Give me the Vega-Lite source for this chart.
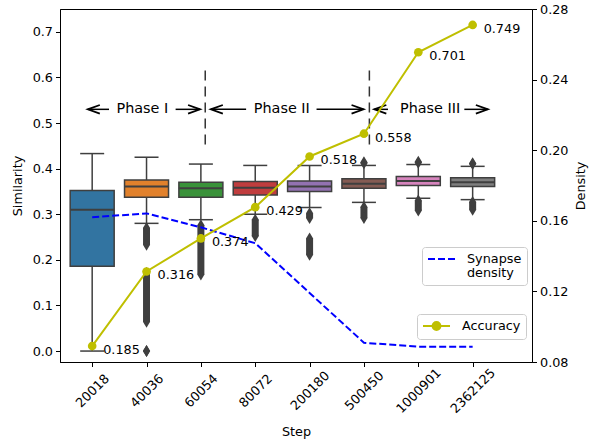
{
  "$schema": "https://vega.github.io/schema/vega-lite/v6.json",
  "width": 472,
  "height": 353,
  "autosize": {"type": "none"},
  "padding": {"left": 60, "top": 9, "right": 58, "bottom": 82},
  "datasets": {
    "steps": [
      {"step": "20018", "idx": 0, "lower": 0.0, "q1": 0.186, "median": 0.310, "q3": 0.352, "upper": 0.433, "accuracy": 0.185, "density": 0.1620},
      {"step": "40036", "idx": 1, "lower": 0.280, "q1": 0.337, "median": 0.361, "q3": 0.375, "upper": 0.425, "accuracy": 0.316, "density": 0.1642},
      {"step": "60054", "idx": 2, "lower": 0.288, "q1": 0.337, "median": 0.357, "q3": 0.370, "upper": 0.410, "accuracy": 0.374, "density": 0.1563},
      {"step": "80072", "idx": 3, "lower": 0.300, "q1": 0.342, "median": 0.358, "q3": 0.372, "upper": 0.407, "accuracy": 0.429, "density": 0.1473},
      {"step": "200180", "idx": 4, "lower": 0.315, "q1": 0.350, "median": 0.361, "q3": 0.373, "upper": 0.407, "accuracy": 0.518, "density": 0.1191},
      {"step": "500450", "idx": 5, "lower": 0.326, "q1": 0.357, "median": 0.367, "q3": 0.378, "upper": 0.407, "accuracy": 0.558, "density": 0.0909},
      {"step": "1000901", "idx": 6, "lower": 0.335, "q1": 0.363, "median": 0.373, "q3": 0.383, "upper": 0.409, "accuracy": 0.701, "density": 0.0887},
      {"step": "2362125", "idx": 7, "lower": 0.332, "q1": 0.361, "median": 0.370, "q3": 0.380, "upper": 0.405, "accuracy": 0.749, "density": 0.0887}
    ],
    "outliers": [
      {"idx": 1, "lo": 0.233, "hi": 0.270},
      {"idx": 1, "lo": 0.064, "hi": 0.171},
      {"idx": 1, "lo": 0.0, "hi": 0.0},
      {"idx": 2, "lo": 0.168, "hi": 0.276},
      {"idx": 3, "lo": 0.252, "hi": 0.288},
      {"idx": 4, "lo": 0.292, "hi": 0.302},
      {"idx": 4, "lo": 0.211, "hi": 0.247},
      {"idx": 5, "lo": 0.412, "hi": 0.414},
      {"idx": 5, "lo": 0.292, "hi": 0.316},
      {"idx": 6, "lo": 0.413, "hi": 0.415},
      {"idx": 6, "lo": 0.308, "hi": 0.330},
      {"idx": 7, "lo": 0.410, "hi": 0.412},
      {"idx": 7, "lo": 0.310, "hi": 0.327}
    ],
    "phases": [
      {"phase": "Phase I", "center": 0.923, "lt": -0.080, "le": 0.310, "rs": 1.535, "rt": 1.985, "y": 0.530},
      {"phase": "Phase II", "center": 3.489, "lt": 2.183, "le": 2.832, "rs": 4.128, "rt": 4.993, "y": 0.530},
      {"phase": "Phase III", "center": 6.217, "lt": 5.191, "le": 5.443, "rs": 6.847, "rt": 7.280, "y": 0.530}
    ],
    "dividers": [
      {"x": 2.08, "top": 0.615, "bottom": 0.441},
      {"x": 5.10, "top": 0.615, "bottom": 0.441}
    ]
  },
  "encoding": {
    "x": {
      "field": "idx", "type": "quantitative", "title": "Step",
      "scale": {"domain": [-0.5, 8], "nice": false, "zero": false},
      "axis": {
        "values": [0, 1, 2, 3, 4, 5, 6, 7],
        "labelExpr": "['20018','40036','60054','80072','200180','500450','1000901','2362125'][datum.value]",
        "labelAngle": -45, "labelAlign": "center", "labelBaseline": "middle",
        "labelPadding": 24, "titlePadding": 10
      }
    }
  },
  "layer": [
    {
      "layer": [
        {
          "data": {"name": "steps"},
          "mark": {"type": "rule", "color": "#3f3f3f", "strokeWidth": 1.5},
          "encoding": {
            "y": {"field": "lower", "type": "quantitative", "title": "Similarity",
              "scale": {"domain": [-0.024, 0.75], "nice": false, "zero": false},
              "axis": {"orient": "left", "values": [0, 0.1, 0.2, 0.3, 0.4, 0.5, 0.6, 0.7], "format": ".1f", "titlePadding": 8}},
            "y2": {"field": "upper", "title": "Similarity"}
          }
        },
        {
          "data": {"name": "steps"},
          "mark": {"type": "tick", "orient": "horizontal", "size": 24, "thickness": 1.5, "color": "#3f3f3f", "opacity": 1},
          "encoding": {
            "y": {"field": "lower", "type": "quantitative", "title": "Similarity", "scale": {"domain": [-0.024, 0.75], "nice": false, "zero": false}}
          }
        },
        {
          "data": {"name": "steps"},
          "mark": {"type": "tick", "orient": "horizontal", "size": 24, "thickness": 1.5, "color": "#3f3f3f", "opacity": 1},
          "encoding": {
            "y": {"field": "upper", "type": "quantitative", "title": "Similarity", "scale": {"domain": [-0.024, 0.75], "nice": false, "zero": false}}
          }
        },
        {
          "data": {"name": "outliers"},
          "mark": {"type": "rule", "color": "#3f3f3f", "strokeWidth": 7},
          "encoding": {
            "y": {"field": "lo", "type": "quantitative", "title": "Similarity", "scale": {"domain": [-0.024, 0.75], "nice": false, "zero": false}},
            "y2": {"field": "hi", "title": "Similarity"}
          }
        },
        {
          "data": {"name": "outliers"},
          "mark": {"type": "point", "shape": "M0,-1L0.6,0L0,1L-0.6,0Z", "size": 144, "filled": true, "color": "#3f3f3f", "opacity": 1},
          "encoding": {
            "y": {"field": "lo", "type": "quantitative", "title": "Similarity", "scale": {"domain": [-0.024, 0.75], "nice": false, "zero": false}}
          }
        },
        {
          "data": {"name": "outliers"},
          "mark": {"type": "point", "shape": "M0,-1L0.6,0L0,1L-0.6,0Z", "size": 144, "filled": true, "color": "#3f3f3f", "opacity": 1},
          "encoding": {
            "y": {"field": "hi", "type": "quantitative", "title": "Similarity", "scale": {"domain": [-0.024, 0.75], "nice": false, "zero": false}}
          }
        },
        {
          "data": {"name": "steps"},
          "mark": {"type": "bar", "width": 44, "stroke": "#3f3f3f", "strokeWidth": 1.5, "opacity": 1},
          "encoding": {
            "y": {"field": "q1", "type": "quantitative", "title": "Similarity", "scale": {"domain": [-0.024, 0.75], "nice": false, "zero": false}},
            "y2": {"field": "q3", "title": "Similarity"},
            "fill": {"field": "step", "type": "nominal", "legend": null,
              "scale": {"domain": ["20018", "40036", "60054", "80072", "200180", "500450", "1000901", "2362125"],
                "range": ["#3274a1", "#e1812c", "#3a923a", "#c03d3e", "#9372b2", "#845b53", "#d684bd", "#7f7f7f"]}}
          }
        },
        {
          "data": {"name": "steps"},
          "mark": {"type": "tick", "orient": "horizontal", "size": 44, "thickness": 2, "color": "#3f3f3f", "opacity": 1},
          "encoding": {
            "y": {"field": "median", "type": "quantitative", "title": "Similarity", "scale": {"domain": [-0.024, 0.75], "nice": false, "zero": false}}
          }
        },
        {
          "data": {"name": "dividers"},
          "mark": {"type": "rule", "color": "#333333", "strokeWidth": 1.5, "strokeDash": [10, 6]},
          "encoding": {
            "x": {"field": "x", "type": "quantitative", "title": "Step", "scale": {"domain": [-0.5, 8], "nice": false, "zero": false}},
            "y": {"field": "top", "type": "quantitative", "title": "Similarity", "scale": {"domain": [-0.024, 0.75], "nice": false, "zero": false}},
            "y2": {"field": "bottom", "title": "Similarity"}
          }
        },
        {
          "data": {"name": "phases"},
          "mark": {"type": "rule", "color": "#000000", "strokeWidth": 1.5},
          "encoding": {
            "x": {"field": "lt", "type": "quantitative", "title": "Step", "scale": {"domain": [-0.5, 8], "nice": false, "zero": false}},
            "x2": {"field": "le", "title": "Step"},
            "y": {"field": "y", "type": "quantitative", "title": "Similarity", "scale": {"domain": [-0.024, 0.75], "nice": false, "zero": false}}
          }
        },
        {
          "data": {"name": "phases"},
          "mark": {"type": "rule", "color": "#000000", "strokeWidth": 1.5},
          "encoding": {
            "x": {"field": "rs", "type": "quantitative", "title": "Step", "scale": {"domain": [-0.5, 8], "nice": false, "zero": false}},
            "x2": {"field": "rt", "title": "Step"},
            "y": {"field": "y", "type": "quantitative", "title": "Similarity", "scale": {"domain": [-0.024, 0.75], "nice": false, "zero": false}}
          }
        },
        {
          "data": {"name": "phases"},
          "mark": {"type": "point", "shape": "M-1,-0.36L0,0L-1,0.36", "size": 576, "filled": false, "stroke": "#000000", "strokeWidth": 1.8, "angle": 180, "opacity": 1},
          "encoding": {
            "x": {"field": "lt", "type": "quantitative", "title": "Step", "scale": {"domain": [-0.5, 8], "nice": false, "zero": false}},
            "y": {"field": "y", "type": "quantitative", "title": "Similarity", "scale": {"domain": [-0.024, 0.75], "nice": false, "zero": false}}
          }
        },
        {
          "data": {"name": "phases"},
          "mark": {"type": "point", "shape": "M-1,-0.36L0,0L-1,0.36", "size": 576, "filled": false, "stroke": "#000000", "strokeWidth": 1.8, "angle": 0, "opacity": 1},
          "encoding": {
            "x": {"field": "rt", "type": "quantitative", "title": "Step", "scale": {"domain": [-0.5, 8], "nice": false, "zero": false}},
            "y": {"field": "y", "type": "quantitative", "title": "Similarity", "scale": {"domain": [-0.024, 0.75], "nice": false, "zero": false}}
          }
        },
        {
          "data": {"name": "phases"},
          "mark": {"type": "text", "font": "DejaVu Sans", "fontSize": 14.4, "color": "#000000", "align": "center", "baseline": "middle"},
          "encoding": {
            "x": {"field": "center", "type": "quantitative", "title": "Step", "scale": {"domain": [-0.5, 8], "nice": false, "zero": false}},
            "y": {"field": "y", "type": "quantitative", "title": "Similarity", "scale": {"domain": [-0.024, 0.75], "nice": false, "zero": false}},
            "text": {"field": "phase"}
          }
        }
      ]
    },
    {
      "data": {"name": "steps"},
      "mark": {"type": "line", "color": "#0000ff", "strokeWidth": 2},
      "encoding": {
        "y": {"field": "density", "type": "quantitative", "title": "Density",
          "scale": {"domain": [0.08, 0.28], "nice": false, "zero": false},
          "axis": {"orient": "right", "values": [0.08, 0.12, 0.16, 0.20, 0.24, 0.28], "format": ".2f", "titleAngle": -90, "titlePadding": 20}},
        "strokeDash": {"datum": "Synapse density", "scale": {"domain": ["Synapse density"], "range": [[7, 3]]},
          "legend": {
            "orient": "none", "legendX": 362, "legendY": 238, "title": null,
            "labelExpr": "split(datum.label, ' ')",
            "symbolType": "M-1,0L3.5,0", "symbolSize": 144, "symbolStrokeColor": "#0000ff", "symbolStrokeWidth": 2,
            "symbolFillColor": "transparent",
            "labelOffset": 26, "padding": 5, "cornerRadius": 3,
            "fillColor": "rgba(255,255,255,0.8)", "strokeColor": "#cccccc",
            "encode": {"labels": {"update": {"lineHeight": {"value": 14}}}}
          }}
      }
    },
    {
      "layer": [
        {
          "data": {"name": "steps"},
          "mark": {"type": "line", "strokeWidth": 2},
          "encoding": {
            "y": {"field": "accuracy", "type": "quantitative", "title": "Accuracy",
              "scale": {"domain": [0.157, 0.777], "nice": false, "zero": false}, "axis": null},
            "color": {"datum": "Accuracy", "scale": {"domain": ["Accuracy"], "range": ["#bfbf00"]},
              "legend": {
                "orient": "none", "legendX": 357, "legendY": 305, "title": null,
                "symbolType": "M-1,0L3.5,0M1.9,0A0.65,0.65,0,1,1,0.6,0A0.65,0.65,0,1,1,1.9,0Z",
                "symbolSize": 144, "symbolStrokeWidth": 2,
                "labelOffset": 26, "padding": 5, "cornerRadius": 3,
                "fillColor": "rgba(255,255,255,0.8)", "strokeColor": "#cccccc",
                "encode": {"symbols": {"update": {"fill": {"value": "#bfbf00"}, "stroke": {"value": "#bfbf00"}}}}
              }}
          }
        },
        {
          "data": {"name": "steps"},
          "mark": {"type": "point", "filled": true, "size": 75, "color": "#bfbf00", "opacity": 1},
          "encoding": {
            "y": {"field": "accuracy", "type": "quantitative", "title": "Accuracy",
              "scale": {"domain": [0.157, 0.777], "nice": false, "zero": false}, "axis": null}
          }
        },
        {
          "data": {"name": "steps"},
          "mark": {"type": "text", "font": "DejaVu Sans", "fontSize": 12.8, "color": "#000000", "align": "left", "baseline": "middle", "dx": 11, "dy": 4},
          "encoding": {
            "y": {"field": "accuracy", "type": "quantitative", "title": "Accuracy",
              "scale": {"domain": [0.157, 0.777], "nice": false, "zero": false}, "axis": null},
            "text": {"field": "accuracy", "format": ".3f"}
          }
        }
      ]
    }
  ],
  "resolve": {"scale": {"y": "independent"}},
  "config": {
    "font": "DejaVu Sans",
    "view": {"stroke": "#000000", "strokeWidth": 1},
    "axis": {
      "labelFont": "DejaVu Sans", "labelFontSize": 12.8, "labelColor": "#000000",
      "titleFont": "DejaVu Sans", "titleFontSize": 12.8, "titleFontWeight": "normal", "titleColor": "#000000",
      "tickColor": "#000000", "tickSize": 4.5, "tickWidth": 1,
      "domainColor": "#000000", "domainWidth": 1, "grid": false, "labelPadding": 3
    },
    "legend": {"labelFont": "DejaVu Sans", "labelFontSize": 12.8, "labelColor": "#000000"}
  }
}
